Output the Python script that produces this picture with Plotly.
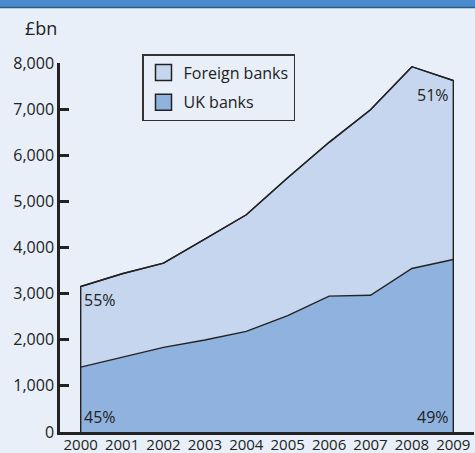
import plotly.graph_objects as go

# Bank assets held in the UK, £bn
years = [2000, 2001, 2002, 2003, 2004, 2005, 2006, 2007, 2008, 2009]
uk_banks = [1405, 1615, 1835, 1995, 2180, 2525, 2945, 2965, 3545, 3740]
foreign_banks = [1750, 1815, 1825, 2185, 2530, 2985, 3335, 4020, 4375, 3880]
y_ticks = [0, 1000, 2000, 3000, 4000, 5000, 6000, 7000, 8000]
series_names = ["UK banks", "Foreign banks"]

totals = [u + f for u, f in zip(uk_banks, foreign_banks)]

W, H = 475, 453
ML, MR, MT, MB = 60, 1, 63, 21
PW, PH = W - ML - MR, H - MT - MB

BG = "#e8eff8"
INK = "#222222"
UK_FILL = "#8fb3de"
FOREIGN_FILL = "#c6d6ee"
FONT = "Open Sans"


def px_x(p):
    return (p - ML) / PW


def px_y(p):
    return (H - MB - p) / PH


def pct(part, whole):
    return f"{round(100 * part / whole)}%"


fig = go.Figure()

# stacked areas
fig.add_trace(go.Scatter(
    x=years, y=uk_banks, name=series_names[0], stackgroup="banks",
    mode="lines", line=dict(color=INK, width=1.4), fillcolor=UK_FILL,
    showlegend=False, hoverinfo="skip"))
fig.add_trace(go.Scatter(
    x=years, y=foreign_banks, name=series_names[1], stackgroup="banks",
    mode="lines", line=dict(color=INK, width=1.4), fillcolor=FOREIGN_FILL,
    showlegend=False, hoverinfo="skip"))

# outline closing the area at both ends
fig.add_trace(go.Scatter(
    x=[years[0]] + years + [years[-1]], y=[0] + totals + [0],
    mode="lines", line=dict(color=INK, width=1.4),
    showlegend=False, hoverinfo="skip", xaxis="x2"))

# legend swatches
for name, color in [(series_names[1], FOREIGN_FILL), (series_names[0], UK_FILL)]:
    fig.add_trace(go.Scatter(
        x=[None], y=[None], mode="markers", name=name, legendgroup=name,
        marker=dict(symbol="square", size=16, color=color,
                    line=dict(color=INK, width=1.5))))

annotations = [
    dict(x=px_x(23), y=px_y(28), xref="paper", yref="paper", text="£bn",
         showarrow=False, xanchor="left", yanchor="middle",
         font=dict(size=18, color=INK, family=FONT)),
    dict(x=years[0], y=totals[0], text=pct(foreign_banks[0], totals[0]),
         showarrow=False, xanchor="left", yanchor="top", xshift=1, yshift=-1),
    dict(x=years[0], y=0, text=pct(uk_banks[0], totals[0]),
         showarrow=False, xanchor="left", yanchor="bottom", xshift=1, yshift=2),
    dict(x=years[-1], y=totals[-1], text=pct(foreign_banks[-1], totals[-1]),
         showarrow=False, xanchor="right", yanchor="top", xshift=-2, yshift=-1),
    dict(x=years[-1], y=0, text=pct(uk_banks[-1], totals[-1]),
         showarrow=False, xanchor="right", yanchor="bottom", xshift=-2, yshift=2),
]

shapes = [
    dict(type="rect", xref="paper", yref="paper",
         x0=px_x(-5), x1=px_x(W + 5), y0=px_y(7), y1=px_y(-5),
         fillcolor="#4a8bcb", line=dict(width=0), layer="above"),
    dict(type="line", xref="paper", yref="paper",
         x0=px_x(-5), x1=px_x(W + 5), y0=px_y(7.5), y1=px_y(7.5),
         line=dict(color="#2c5d8c", width=1.5), layer="above"),
]

fig.update_layout(
    width=W, height=H,
    margin=dict(l=ML, r=MR, t=MT, b=MB, autoexpand=False),
    paper_bgcolor=BG, plot_bgcolor=BG,
    font=dict(family=FONT, size=16, color=INK),
    annotations=annotations,
    shapes=shapes,
    legend=dict(x=px_x(142), y=px_y(54), xanchor="left", yanchor="top",
                bgcolor=BG, bordercolor="#333333", borderwidth=1.5,
                traceorder="grouped", tracegroupgap=6,
                itemsizing="trace", font=dict(size=16, color=INK)),
    xaxis=dict(range=[1999.5, 2009.5], tickvals=years, ticktext=[str(y) for y in years],
               tickangle=0, ticks="", showgrid=False, zeroline=False,
               showline=True, linecolor=INK, linewidth=2.5,
               ticklabelstandoff=-3,
               tickfont=dict(size=15), automargin=False, fixedrange=True),
    xaxis2=dict(matches="x", overlaying="x", anchor="y", side="bottom",
                tickvals=[1999.5, 2009.5], ticks="inside", ticklen=8,
                tickwidth=2.5, tickcolor=INK, showticklabels=False,
                showgrid=False, zeroline=False, showline=False),
    yaxis=dict(range=[0, 8000], tickvals=y_ticks, tickformat=",",
               ticks="inside", ticklen=9, tickwidth=2.5, tickcolor=INK,
               showgrid=False, zeroline=False, showline=True,
               linecolor=INK, linewidth=2.5, tickfont=dict(size=16),
               automargin=False, fixedrange=True),
    hovermode=False,
)

fig.write_html("out.html")
